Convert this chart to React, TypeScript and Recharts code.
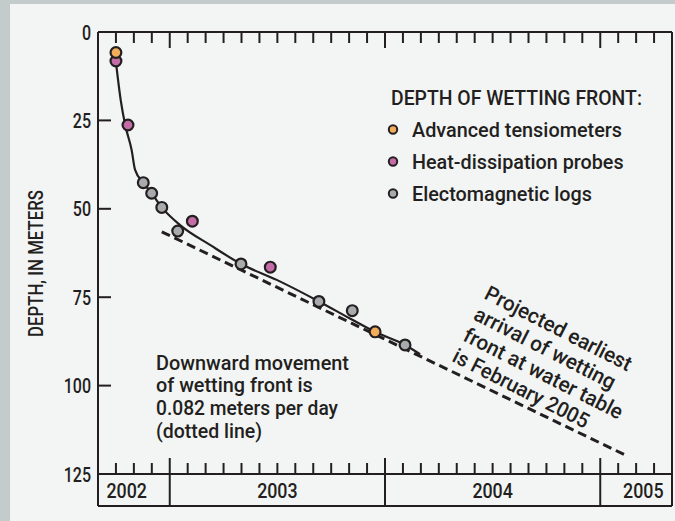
import { ComposedChart, Line, Scatter, XAxis, YAxis } from "recharts";

const INK = "#231f20";
const PANEL = "#f3f5f5";
const EDGE = "#c3cbcb";
const FONT = "Roboto, 'Liberation Sans', sans-serif";

// series (x = decimal year, y = depth in meters)
const tensiometers = [
  { x: 2002.75, y: 5.8 },
  { x: 2003.954, y: 84.8 },
];
const heatProbes = [
  { x: 2002.75, y: 8.2 },
  { x: 2002.806, y: 26.3 },
  { x: 2003.105, y: 53.5 },
  { x: 2003.467, y: 66.5 },
];
const emLogs = [
  { x: 2002.877, y: 42.6 },
  { x: 2002.916, y: 45.6 },
  { x: 2002.963, y: 49.6 },
  { x: 2003.037, y: 56.3 },
  { x: 2003.331, y: 65.6 },
  { x: 2003.693, y: 76.2 },
  { x: 2003.848, y: 78.8 },
  { x: 2004.093, y: 88.5 },
];
const fitCurve = [
  { x: 2002.75, y: 8.5 },
  { x: 2002.772, y: 19.2 },
  { x: 2002.793, y: 26.3 },
  { x: 2002.823, y: 33.4 },
  { x: 2002.839, y: 39.0 },
  { x: 2002.877, y: 42.6 },
  { x: 2002.916, y: 45.6 },
  { x: 2002.963, y: 49.6 },
  { x: 2003.048, y: 54.6 },
  { x: 2003.187, y: 60.2 },
  { x: 2003.331, y: 65.6 },
  { x: 2003.497, y: 70.1 },
  { x: 2003.693, y: 76.2 },
  { x: 2003.837, y: 81.0 },
  { x: 2003.954, y: 84.8 },
  { x: 2004.093, y: 88.5 },
  { x: 2004.163, y: 91.1 },
];
const rateLine = [
  { x: 2002.963, y: 56.5 },
  { x: 2005.115, y: 119.6 },
];

const seriesNames = ["Advanced tensiometers", "Heat-dissipation probes", "Electomagnetic logs"];
const seriesColors = ["#f2ad5c", "#c46ca5", "#a8aaad"];
const legendTitle = "DEPTH OF WETTING FRONT:";
const depthTicks = [0, 25, 50, 75, 100, 125];
const yearLabels = [2002, 2003, 2004, 2005];
const yearLabelAt = [2002.8, 2003.5, 2004.5, 2005.2];
const noteLines = ["Downward movement", "of wetting front is", "0.082 meters per day", "(dotted line)"];
const projLines = ["Projected earliest", "arrival of wetting", "front at water table", "is February 2005"];

const xStart = 2002 + 8 / 12;
const xEnd = 2005 + 4 / 12;
const monthTicks: number[] = [];
for (let m = 8; m <= 40; m++) monthTicks.push(2002 + m / 12);

const isJan = (v: number) => Math.abs(v - Math.round(v)) < 1e-6;
const isEdge = (v: number) => Math.abs(v - xStart) < 1e-6 || Math.abs(v - xEnd) < 1e-6;

const T = ({ len, ...rest }: any) => (
  <text
    fontFamily={FONT}
    fontSize={21}
    fontWeight={500}
    fill={INK}
    textLength={len}
    lengthAdjust="spacingAndGlyphs"
    {...rest}
  />
);

const LeftTick = ({ x, y, payload }: any) => {
  const v = payload.value;
  return (
    <g>
      {v > 0 && v < 125 && <line x1={x} x2={x + 13} y1={y} y2={y} stroke={INK} strokeWidth={2} />}
      <T x={x - 7} y={y + 7.5} textAnchor="end" len={String(v).length * 9.1}>
        {v}
      </T>
    </g>
  );
};

const RightTick = ({ x, y, payload }: any) => {
  const v = payload.value;
  if (v <= 0 || v >= 125) return <g />;
  return <line x1={x - 12} x2={x} y1={y} y2={y} stroke={INK} strokeWidth={2} />;
};

const TopTick = ({ x, y, payload }: any) => {
  const v = payload.value;
  if (isEdge(v)) return <g />;
  return <line x1={x} x2={x} y1={y} y2={y + (isJan(v) ? 16 : 11)} stroke={INK} strokeWidth={2} />;
};

const MonthTick = ({ x, y, payload }: any) => {
  const v = payload.value;
  if (isEdge(v)) return <line x1={x} x2={x} y1={y} y2={y + 32} stroke={INK} strokeWidth={2} />;
  if (isJan(v)) return <line x1={x} x2={x} y1={y - 16} y2={y + 32} stroke={INK} strokeWidth={2} />;
  return <line x1={x} x2={x} y1={y - 11} y2={y} stroke={INK} strokeWidth={2} />;
};

const YearTick = ({ x, y, index }: any) => (
  <T x={x} y={y - 8} textAnchor="middle" len={40.5}>
    {yearLabels[index]}
  </T>
);

const dot = (fill: string) => (p: any) =>
  <circle cx={p.cx} cy={p.cy} r={5.4} fill={fill} stroke={INK} strokeWidth={2.2} />;

export default function App() {
  return (
    <div style={{ position: "fixed", left: 0, top: 0, width: 675, height: 521, background: EDGE, overflow: "hidden" }}>
      <div style={{ position: "absolute", left: 10, top: 4, right: 0, bottom: 0, background: PANEL }} />
      <div style={{ position: "absolute", left: 0, top: 0 }}>
        <ComposedChart width={675} height={521} margin={{ top: 0, right: 0, bottom: 0, left: 0 }}>
          <XAxis
            xAxisId="m"
            dataKey="x"
            type="number"
            domain={[xStart, xEnd]}
            allowDataOverflow
            ticks={monthTicks}
            interval={0}
            height={32}
            tickSize={0}
            tickMargin={0}
            tickLine={false}
            tick={MonthTick}
            axisLine={{ stroke: INK, strokeWidth: 2 }}
          />
          <XAxis
            xAxisId="yr"
            dataKey="x"
            type="number"
            domain={[xStart, xEnd]}
            allowDataOverflow
            ticks={yearLabelAt}
            interval={0}
            height={15}
            tickSize={0}
            tickMargin={0}
            tickLine={false}
            tick={YearTick}
            axisLine={{ stroke: INK, strokeWidth: 2 }}
          />
          <XAxis
            xAxisId="top"
            orientation="top"
            dataKey="x"
            type="number"
            domain={[xStart, xEnd]}
            allowDataOverflow
            ticks={monthTicks}
            interval={0}
            height={32}
            tickSize={0}
            tickMargin={0}
            tickLine={false}
            tick={TopTick}
            axisLine={{ stroke: INK, strokeWidth: 2 }}
          />
          <YAxis
            yAxisId="left"
            type="number"
            domain={[0, 125]}
            reversed
            ticks={depthTicks}
            interval={0}
            width={98}
            tickSize={0}
            tickMargin={0}
            tickLine={false}
            tick={LeftTick}
            axisLine={{ stroke: INK, strokeWidth: 2 }}
          />
          <YAxis
            yAxisId="right"
            orientation="right"
            type="number"
            domain={[0, 125]}
            reversed
            ticks={depthTicks}
            interval={0}
            width={3}
            tickSize={0}
            tickMargin={0}
            tickLine={false}
            tick={RightTick}
            axisLine={{ stroke: INK, strokeWidth: 2 }}
          />
          <Line
            xAxisId="m"
            yAxisId="left"
            data={rateLine}
            dataKey="y"
            stroke={INK}
            strokeWidth={3}
            strokeDasharray="9 5"
            dot={false}
            isAnimationActive={false}
          />
          <Line
            xAxisId="m"
            yAxisId="left"
            data={fitCurve}
            dataKey="y"
            type="monotone"
            stroke={INK}
            strokeWidth={2.2}
            dot={false}
            isAnimationActive={false}
          />
          <Scatter xAxisId="m" yAxisId="left" name={seriesNames[2]} data={emLogs} dataKey="y" shape={dot(seriesColors[2])} isAnimationActive={false} />
          <Scatter xAxisId="m" yAxisId="left" name={seriesNames[1]} data={heatProbes} dataKey="y" shape={dot(seriesColors[1])} isAnimationActive={false} />
          <Scatter xAxisId="m" yAxisId="left" name={seriesNames[0]} data={tensiometers} dataKey="y" shape={dot(seriesColors[0])} isAnimationActive={false} />
        </ComposedChart>
      </div>
      <svg width={675} height={521} style={{ position: "absolute", left: 0, top: 0, pointerEvents: "none" }}>
        <T transform="translate(43,337) rotate(-90)" len={147}>DEPTH, IN METERS</T>
        <T x={391} y={105} len={251}>{legendTitle}</T>
        {seriesNames.map((n, i) => (
          <g key={n}>
            <circle cx={393} cy={129.5 + i * 32} r={4.2} fill={seriesColors[i]} stroke={INK} strokeWidth={2} />
            <T x={412} y={137 + i * 32} len={[210, 211.6, 180][i]}>{n}</T>
          </g>
        ))}
        {noteLines.map((l, i) => (
          <T key={l} x={156} y={369.5 + i * 22.7} len={[193, 156.7, 182, 106][i]}>{l}</T>
        ))}
        <g transform="translate(483,298) rotate(27)">
          {projLines.map((l, i) => (
            <T key={l} x={0} y={i * 23.5} len={[162, 156, 176, 150][i]}>{l}</T>
          ))}
        </g>
      </svg>
    </div>
  );
}
